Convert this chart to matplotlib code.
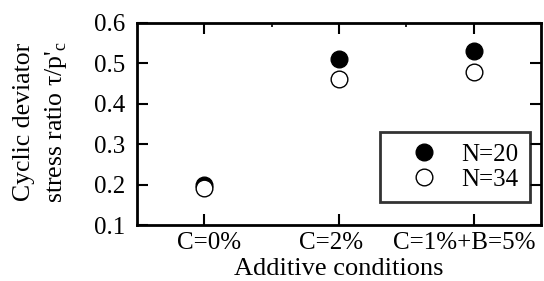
import numpy as np
import matplotlib.pyplot as plt
import matplotlib.transforms as mtransforms
from matplotlib.ticker import MultipleLocator, FixedLocator

plt.rcParams['font.family'] = ['Liberation Serif', 'DejaVu Serif']
plt.rcParams['mathtext.fontset'] = 'custom'
plt.rcParams['mathtext.rm'] = 'Liberation Serif'

conditions = ['C=0%', 'C=2%', 'C=1%+B=5%']
ratio_n20 = [0.200, 0.511, 0.531]
ratio_n34 = [0.192, 0.461, 0.479]

# horizontal nudge of each category label (pixels), as in the original
label_shift = [5, -8, -9]

x = np.arange(1, len(conditions) + 1)

fig = plt.figure(figsize=(5.44, 2.81), dpi=100)
ax = fig.add_axes([137 / 544, 1 - 225 / 281, 404 / 544, 202 / 281])

ax.plot(x, ratio_n20, 'o', color='black', markersize=12, label='N=20', zorder=3)
ax.plot(x, ratio_n34, 'o', markerfacecolor='white', markeredgecolor='black',
        markeredgewidth=1.0, markersize=12, label='N=34', zorder=4)

ax.set_xlim(0.5, 3.5)
ax.set_ylim(0.1, 0.6)
ax.set_xticks(x)
ax.set_xticklabels(conditions)
ax.xaxis.set_minor_locator(FixedLocator([1.5, 2.5]))
ax.yaxis.set_major_locator(MultipleLocator(0.1))

ax.tick_params(axis='both', which='major', direction='in', length=8, width=1.5,
               top=True, right=True, labelsize=18)
ax.tick_params(axis='y', which='major', pad=8.5)
ax.tick_params(axis='x', which='major', pad=5)
ax.tick_params(axis='x', which='minor', direction='in', length=3, width=1.2,
               top=True, bottom=False)
for s in ax.spines.values():
    s.set_linewidth(2)

for lab, dx in zip(ax.get_xticklabels(), label_shift):
    lab.set_transform(lab.get_transform() +
                      mtransforms.ScaledTranslation(dx / 100, 0, fig.dpi_scale_trans))

ax.set_xlabel('Additive conditions', fontsize=19)
ax.xaxis.set_label_coords(0.5, -0.165)
ax.set_ylabel("Cyclic deviator\nstress ratio τ/p'$_\\mathrm{c}$", fontsize=18.5,
              linespacing=1.45)
ax.yaxis.set_label_coords(-0.168, 0.51)

leg = ax.legend(loc='lower right', bbox_to_anchor=(0.973, 0.114), fontsize=18,
                frameon=True, fancybox=False, edgecolor='black',
                handletextpad=0.2, borderpad=0.45, labelspacing=0.1,
                borderaxespad=0, handlelength=2.6, markerfirst=True)
leg.get_frame().set_linewidth(2)

fig.savefig('out.png', dpi=100)
